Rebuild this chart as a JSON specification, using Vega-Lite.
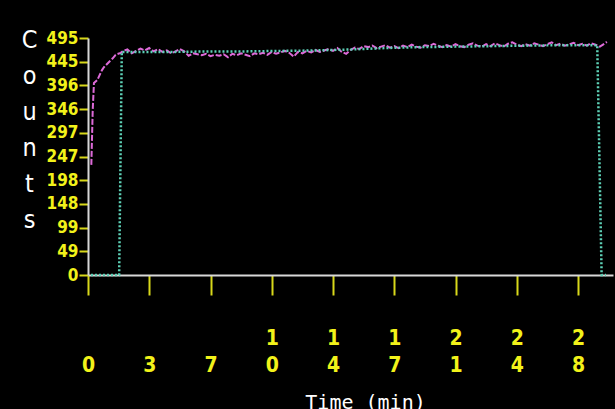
{
  "$schema": "https://vega.github.io/schema/vega-lite/v6.json",
  "autosize": "none",
  "padding": {"left": 88, "top": 38, "right": 2, "bottom": 134},
  "width": 525,
  "height": 237,
  "background": "black",
  "config": {"view": {"stroke": null}},
  "data": {"values": [
    {"s": "raw", "t": 0.19, "v": 230}, {"s": "raw", "t": 0.27, "v": 345}, {"s": "raw", "t": 0.34, "v": 401},
    {"s": "raw", "t": 0.53, "v": 407}, {"s": "raw", "t": 0.8, "v": 428}, {"s": "raw", "t": 0.91, "v": 434},
    {"s": "raw", "t": 1.2, "v": 445}, {"s": "raw", "t": 1.4, "v": 452}, {"s": "raw", "t": 1.58, "v": 460},
    {"s": "raw", "t": 1.87, "v": 464}, {"s": "raw", "t": 2.0, "v": 468}, {"s": "raw", "t": 2.25, "v": 471},
    {"s": "raw", "t": 2.5, "v": 463}, {"s": "raw", "t": 2.75, "v": 468}, {"s": "raw", "t": 3.0, "v": 473},
    {"s": "raw", "t": 3.25, "v": 469}, {"s": "raw", "t": 3.5, "v": 474}, {"s": "raw", "t": 3.75, "v": 467},
    {"s": "raw", "t": 4.0, "v": 472}, {"s": "raw", "t": 4.25, "v": 466}, {"s": "raw", "t": 4.5, "v": 469},
    {"s": "raw", "t": 4.75, "v": 463}, {"s": "raw", "t": 5.0, "v": 467}, {"s": "raw", "t": 5.25, "v": 472},
    {"s": "raw", "t": 5.5, "v": 467}, {"s": "raw", "t": 5.75, "v": 458}, {"s": "raw", "t": 6.0, "v": 463},
    {"s": "raw", "t": 6.25, "v": 461}, {"s": "raw", "t": 6.5, "v": 459}, {"s": "raw", "t": 6.75, "v": 462},
    {"s": "raw", "t": 7.0, "v": 457}, {"s": "raw", "t": 7.25, "v": 460}, {"s": "raw", "t": 7.5, "v": 458},
    {"s": "raw", "t": 7.75, "v": 461}, {"s": "raw", "t": 8.0, "v": 455}, {"s": "raw", "t": 8.25, "v": 462},
    {"s": "raw", "t": 8.5, "v": 459}, {"s": "raw", "t": 8.75, "v": 463}, {"s": "raw", "t": 9.0, "v": 460},
    {"s": "raw", "t": 9.25, "v": 457}, {"s": "raw", "t": 9.5, "v": 463}, {"s": "raw", "t": 9.75, "v": 461},
    {"s": "raw", "t": 10.0, "v": 464}, {"s": "raw", "t": 10.25, "v": 460}, {"s": "raw", "t": 10.5, "v": 466},
    {"s": "raw", "t": 10.75, "v": 462}, {"s": "raw", "t": 11.0, "v": 465}, {"s": "raw", "t": 11.25, "v": 468},
    {"s": "raw", "t": 11.5, "v": 464}, {"s": "raw", "t": 11.75, "v": 456}, {"s": "raw", "t": 12.0, "v": 466},
    {"s": "raw", "t": 12.25, "v": 463}, {"s": "raw", "t": 12.5, "v": 468}, {"s": "raw", "t": 12.75, "v": 465},
    {"s": "raw", "t": 13.0, "v": 470}, {"s": "raw", "t": 13.25, "v": 466}, {"s": "raw", "t": 13.5, "v": 469},
    {"s": "raw", "t": 13.75, "v": 472}, {"s": "raw", "t": 14.0, "v": 468}, {"s": "raw", "t": 14.25, "v": 474},
    {"s": "raw", "t": 14.5, "v": 466}, {"s": "raw", "t": 14.75, "v": 462}, {"s": "raw", "t": 15.0, "v": 470},
    {"s": "raw", "t": 15.25, "v": 475}, {"s": "raw", "t": 15.5, "v": 472}, {"s": "raw", "t": 15.75, "v": 478},
    {"s": "raw", "t": 16.0, "v": 476}, {"s": "raw", "t": 16.25, "v": 479}, {"s": "raw", "t": 16.5, "v": 474},
    {"s": "raw", "t": 16.75, "v": 477}, {"s": "raw", "t": 17.0, "v": 480}, {"s": "raw", "t": 17.25, "v": 475},
    {"s": "raw", "t": 17.5, "v": 478}, {"s": "raw", "t": 17.75, "v": 474}, {"s": "raw", "t": 18.0, "v": 479},
    {"s": "raw", "t": 18.25, "v": 476}, {"s": "raw", "t": 18.5, "v": 481}, {"s": "raw", "t": 18.75, "v": 477},
    {"s": "raw", "t": 19.0, "v": 475}, {"s": "raw", "t": 19.25, "v": 480}, {"s": "raw", "t": 19.5, "v": 478},
    {"s": "raw", "t": 19.75, "v": 483}, {"s": "raw", "t": 20.0, "v": 479}, {"s": "raw", "t": 20.25, "v": 476},
    {"s": "raw", "t": 20.5, "v": 480}, {"s": "raw", "t": 20.75, "v": 477}, {"s": "raw", "t": 21.0, "v": 482},
    {"s": "raw", "t": 21.25, "v": 478}, {"s": "raw", "t": 21.5, "v": 476}, {"s": "raw", "t": 21.75, "v": 481},
    {"s": "raw", "t": 22.0, "v": 484}, {"s": "raw", "t": 22.25, "v": 479}, {"s": "raw", "t": 22.5, "v": 477},
    {"s": "raw", "t": 22.75, "v": 482}, {"s": "raw", "t": 23.0, "v": 478}, {"s": "raw", "t": 23.25, "v": 484},
    {"s": "raw", "t": 23.5, "v": 480}, {"s": "raw", "t": 23.75, "v": 477}, {"s": "raw", "t": 24.0, "v": 483},
    {"s": "raw", "t": 24.25, "v": 486}, {"s": "raw", "t": 24.5, "v": 481}, {"s": "raw", "t": 24.75, "v": 478},
    {"s": "raw", "t": 25.0, "v": 482}, {"s": "raw", "t": 25.25, "v": 479}, {"s": "raw", "t": 25.5, "v": 484},
    {"s": "raw", "t": 25.75, "v": 481}, {"s": "raw", "t": 26.0, "v": 478}, {"s": "raw", "t": 26.25, "v": 482},
    {"s": "raw", "t": 26.5, "v": 486}, {"s": "raw", "t": 26.75, "v": 480}, {"s": "raw", "t": 27.0, "v": 483},
    {"s": "raw", "t": 27.25, "v": 479}, {"s": "raw", "t": 27.5, "v": 482}, {"s": "raw", "t": 27.75, "v": 485},
    {"s": "raw", "t": 28.0, "v": 480}, {"s": "raw", "t": 28.25, "v": 483}, {"s": "raw", "t": 28.5, "v": 479},
    {"s": "raw", "t": 28.75, "v": 484}, {"s": "raw", "t": 29.0, "v": 481}, {"s": "raw", "t": 29.25, "v": 477},
    {"s": "raw", "t": 29.5, "v": 483}, {"s": "raw", "t": 29.65, "v": 487},
    {"s": "fit", "t": 0.17, "v": 0}, {"s": "fit", "t": 1.78, "v": 0}, {"s": "fit", "t": 1.93, "v": 466},
    {"s": "fit", "t": 3, "v": 466}, {"s": "fit", "t": 5, "v": 466}, {"s": "fit", "t": 7, "v": 467},
    {"s": "fit", "t": 9, "v": 467}, {"s": "fit", "t": 11, "v": 468}, {"s": "fit", "t": 13, "v": 469},
    {"s": "fit", "t": 15, "v": 471}, {"s": "fit", "t": 17, "v": 474}, {"s": "fit", "t": 19, "v": 476},
    {"s": "fit", "t": 21, "v": 477}, {"s": "fit", "t": 23, "v": 478}, {"s": "fit", "t": 25, "v": 479},
    {"s": "fit", "t": 27, "v": 480}, {"s": "fit", "t": 29.1, "v": 480}, {"s": "fit", "t": 29.35, "v": 0},
    {"s": "fit", "t": 29.6, "v": 0}
  ]},
  "mark": {"type": "line", "clip": false},
  "encoding": {
    "x": {
      "field": "t", "type": "quantitative",
      "scale": {"domain": [0, 30], "nice": false, "zero": false},
      "axis": {
        "values": [0, 3.5, 7, 10.5, 14, 17.5, 21, 24.5, 28],
        "labelExpr": "floor(datum.value) < 10 ? ['', '' + floor(datum.value)] : split('' + floor(datum.value), '')",
        "labelFont": "'DejaVu Sans Condensed', 'Liberation Sans Narrow', 'DejaVu Sans', sans-serif", "labelFontWeight": "bold", "labelFontSize": 21,
        "labelColor": "#f2f21a", "labelLineHeight": 27, "labelPadding": 32, "labelBaseline": "top",
        "labelFlush": false, "labelOverlap": false,
        "domainColor": "#d8d8d8", "domainWidth": 2,
        "tickColor": "#d8d81a", "tickSize": 20, "tickWidth": 2,
        "grid": false,
        "title": "Time (min)", "titleFont": "'DejaVu Sans Mono', monospace", "titleFontSize": 20, "titleFontWeight": "normal",
        "titleColor": "white", "titleX": 277, "titleY": 117, "titleBaseline": "top", "titleAlign": "center", "titleAnchor": "start"
      }
    },
    "y": {
      "field": "v", "type": "quantitative",
      "scale": {"domain": [0, 495], "nice": false},
      "axis": {
        "values": [0, 49.5, 99, 148.5, 198, 247.5, 297, 346.5, 396, 445.5, 495],
        "labelExpr": "floor(datum.value)",
        "labelFont": "'DejaVu Sans Condensed', 'Liberation Sans Narrow', 'DejaVu Sans', sans-serif", "labelFontWeight": "bold", "labelFontSize": 17,
        "labelColor": "#f2f21a", "labelPadding": 1, "labelFlush": false, "labelOverlap": false,
        "domainColor": "#d8d8d8", "domainWidth": 2,
        "tickColor": "#d8d81a", "tickSize": 9, "tickWidth": 2,
        "grid": false,
        "title": ["C", "o", "u", "n", "t", "s"], "titleFont": "'DejaVu Sans Condensed', 'DejaVu Sans', sans-serif", "titleFontSize": 25,
        "titleFontWeight": "normal", "titleColor": "white", "titleAngle": 0, "titleLineHeight": 36,
        "titleX": -59, "titleY": -11, "titleAlign": "center", "titleBaseline": "top", "titleAnchor": "start"
      }
    },
    "color": {"field": "s", "type": "nominal", "scale": {"domain": ["raw", "fit"], "range": ["#dd6ad8", "#5ed2b8"]}, "legend": null},
    "strokeDash": {"field": "s", "type": "nominal", "scale": {"domain": ["raw", "fit"], "range": [[6, 2], [2, 2]]}, "legend": null},
    "strokeWidth": {"field": "s", "type": "nominal", "scale": {"domain": ["raw", "fit"], "range": [2, 2.5]}, "legend": null},
    "order": {"field": "t", "type": "quantitative"}
  }
}
